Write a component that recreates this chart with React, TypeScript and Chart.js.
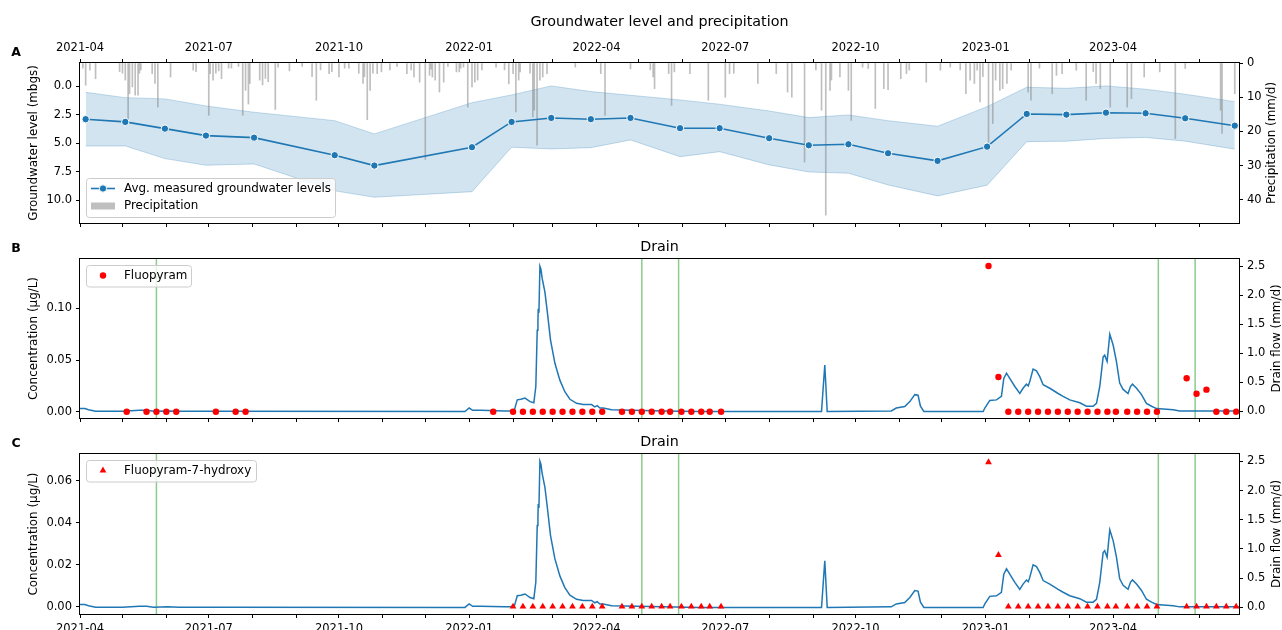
import React, { useEffect, useRef } from 'react';
import { Chart, registerables } from 'chart.js';

Chart.register(...registerables);

// ---------- data ----------
const START_DATE = '2021-04-01';
const X_MAX_DAY = 819; // ~2023-06-28

const MONTHS = [
  '2021-04', '2021-05', '2021-06', '2021-07', '2021-08', '2021-09', '2021-10', '2021-11', '2021-12',
  '2022-01', '2022-02', '2022-03', '2022-04', '2022-05', '2022-06', '2022-07', '2022-08', '2022-09',
  '2022-10', '2022-11', '2022-12', '2023-01', '2023-02', '2023-03', '2023-04', '2023-05', '2023-06',
];
const MONTH_LABELS = ['2021-04', '2021-07', '2021-10', '2022-01', '2022-04', '2022-07', '2022-10', '2023-01', '2023-04'];

const GW_DATES = [
  '2021-04-05', '2021-05-03', '2021-05-31', '2021-06-29', '2021-08-02', '2021-09-28', '2021-10-26',
  '2022-01-03', '2022-01-31', '2022-02-28', '2022-03-28', '2022-04-25', '2022-05-30', '2022-06-27',
  '2022-08-01', '2022-08-29', '2022-09-26', '2022-10-24', '2022-11-28', '2023-01-02', '2023-01-30',
  '2023-02-27', '2023-03-27', '2023-04-24', '2023-05-22', '2023-06-26',
];
const GW_MEAN = [2.89, 3.13, 3.72, 4.33, 4.51, 6.05, 6.96, 5.35, 3.13, 2.78, 2.89, 2.78, 3.68, 3.68, 4.56, 5.18, 5.09, 5.88, 6.55, 5.3, 2.43, 2.49, 2.32, 2.37, 2.81, 3.46];
const GW_MIN = [0.53, 1.0, 1.11, 1.73, 2.28, 3.02, 4.18, 1.44, 0.76, -0.03, 0.47, 0.79, 1.2, 1.58, 2.17, 2.75, 2.52, 3.02, 3.51, 1.79, 0.09, 0.18, -0.03, 0.26, 0.7, 1.35];
const GW_MAX = [5.24, 5.24, 6.35, 6.93, 6.82, 9.18, 9.74, 9.25, 5.35, 5.5, 5.39, 4.71, 6.18, 5.74, 6.9, 7.52, 7.63, 8.66, 9.62, 8.68, 4.86, 4.82, 4.58, 4.49, 4.82, 5.52];

// [day since 2021-04-01, mm/d]
const PRECIPITATION: [number, number][] = [
  [2, 1.5], [4, 6.5], [7, 2.1], [11, 4.6], [28, 2.5], [30, 3.0], [32, 5.0], [34, 16.8], [35, 9.0], [37, 7.0], [39, 9.4],
  [41, 9.4], [42, 3.0], [43, 2.0], [51, 3.1], [53, 6.0], [55, 12.9], [64, 4.1], [80, 2.1], [82, 2.5], [91, 15.3], [92, 3.1],
  [94, 5.0], [96, 3.0], [98, 2.3], [100, 4.6], [105, 1.5], [107, 1.5], [112, 1.0], [115, 15.3], [117, 8.0], [119, 12.0], [120, 6.0], [127, 5.0],
  [129, 6.4], [131, 4.5], [133, 5.5], [138, 13.6], [140, 1.2], [148, 2.3], [157, 1.0], [164, 4.0], [167, 10.9], [170, 2.0], [176, 3.1],
  [178, 2.5], [183, 4.1], [187, 1.5], [190, 1.5], [197, 3.0], [200, 6.0], [201, 4.0], [203, 16.6], [205, 8.0], [207, 3.0], [210, 3.1],
  [213, 2.6], [219, 2.0], [224, 1.0], [231, 3.1], [234, 2.0], [236, 4.1], [240, 5.6], [244, 28.2], [247, 3.6], [248, 1.8], [249, 4.1],
  [251, 5.0], [254, 8.5], [257, 5.6], [260, 1.0], [266, 2.6], [268, 2.6], [269, 1.5], [271, 1.2], [274, 12.9], [277, 7.0], [279, 5.6],
  [281, 5.0], [284, 2.0], [294, 1.2], [300, 2.0], [303, 6.1], [306, 3.1], [308, 14.3], [310, 5.0], [311, 2.6], [318, 3.0],
  [320, 15.8], [321, 13.8], [323, 24.0], [325, 5.0], [327, 4.1], [330, 3.1], [350, 1.2], [368, 3.1], [371, 15.3], [389, 1.7],
  [403, 2.0], [405, 4.1], [406, 7.5], [416, 3.1], [418, 12.4], [420, 2.6], [431, 3.1], [444, 10.9], [456, 10.0], [459, 3.1],
  [462, 3.0], [479, 6.0], [492, 3.1], [500, 8.5], [503, 10.0], [512, 29.0], [520, 2.0], [524, 13.8], [527, 44.5], [530, 8.0],
  [531, 5.0], [537, 4.1], [543, 8.0], [545, 16.8], [553, 1.2], [557, 1.6], [562, 13.3], [568, 7.5], [571, 7.8], [580, 4.6],
  [584, 3.1], [586, 2.1], [598, 5.6], [608, 2.1], [615, 1.2], [622, 2.0], [626, 9.0], [629, 5.0], [632, 6.0], [634, 2.1],
  [636, 11.4], [638, 4.0], [642, 23.6], [645, 17.7], [647, 5.0], [650, 8.0], [652, 7.5], [655, 6.0], [658, 2.1], [670, 8.5],
  [672, 10.9], [678, 1.5], [687, 9.0], [690, 3.6], [694, 3.1], [704, 2.1], [711, 10.9], [716, 2.5], [718, 6.0], [721, 7.5],
  [728, 12.9], [740, 12.9], [743, 10.4], [752, 4.1], [763, 2.6], [774, 22.1], [781, 1.6], [806, 13.8], [807, 20.6], [816, 9.0],
];

// [day since 2021-04-01, mm/d]
const DRAIN_FLOW: [number, number][] = [
  [0, 0.05], [3.5, 0.05], [6, 0.03], [11, 0.005], [30, 0.005], [42, 0.02], [47, 0.02], [52, 0.005], [62, 0.01], [70, 0.005],
  [90, 0.005], [100, 0.003], [272, 0.0], [275, 0.06], [277.5, 0.02], [283, 0.02], [300, 0.01], [304, 0.01], [307, 0.03],
  [309, 0.2], [311.5, 0.21], [314.5, 0.23], [318, 0.17], [320.7, 0.15], [322.1, 0.43], [323.1, 1.4], [323.6, 1.55],
  [323.8, 1.77], [324.3, 1.7], [325, 2.5], [325.7, 2.45], [326.6, 2.29], [328.5, 2.06], [330.1, 1.74], [332.5, 1.23],
  [335.6, 0.83], [339.1, 0.54], [342.6, 0.34], [346.2, 0.21], [350.9, 0.14], [355.6, 0.12], [361.5, 0.12], [363.8, 0.08],
  [365.5, 0.1], [367.4, 0.06], [369.7, 0.06], [375.6, 0.03], [412, 0.01], [438, 0.0], [524, 0.0], [526.3, 0.8], [528, 0.0],
  [573.3, 0.01], [576.8, 0.06], [582.8, 0.085], [586.4, 0.17], [589.9, 0.29], [592.2, 0.28], [593.9, 0.09], [596.3, 0.0],
  [638.2, 0.0], [639.4, 0.06], [642.9, 0.19], [647.6, 0.2], [651.1, 0.26], [652.8, 0.57], [654.7, 0.66], [657, 0.57],
  [660.6, 0.43], [664.1, 0.31], [666.4, 0.4], [668.8, 0.47], [670.1, 0.44], [671.1, 0.51], [673.5, 0.73], [675.9, 0.7],
  [678.2, 0.6], [680.6, 0.46], [685.3, 0.4], [691.2, 0.31], [694.7, 0.26], [699.4, 0.2], [706.5, 0.15], [711.2, 0.09],
  [715.9, 0.09], [718.3, 0.14], [720.6, 0.43], [723, 0.94], [724.1, 0.97], [725.8, 0.86], [727.7, 1.33], [730.1, 1.14],
  [732.4, 0.86], [734.7, 0.49], [737.1, 0.38], [740.6, 0.31], [742.3, 0.43], [743.7, 0.47], [746.6, 0.4], [750.1, 0.29],
  [753.6, 0.14], [757.2, 0.09], [760.7, 0.05], [772.5, 0.03], [777.1, 0.01], [819, 0.01],
];

const FLUOPYRAM_DATES = [
  '2021-05-04', '2021-05-18', '2021-05-25', '2021-06-01', '2021-06-08', '2021-07-06', '2021-07-20', '2021-07-27',
  '2022-01-18', '2022-02-01', '2022-02-08', '2022-02-15', '2022-02-22', '2022-03-01', '2022-03-08', '2022-03-15',
  '2022-03-22', '2022-03-29', '2022-04-05', '2022-04-19', '2022-04-26', '2022-05-03', '2022-05-10', '2022-05-17',
  '2022-05-23', '2022-05-31', '2022-06-07', '2022-06-14', '2022-06-20', '2022-06-28',
  '2023-01-03', '2023-01-10', '2023-01-17', '2023-01-24', '2023-01-31', '2023-02-07', '2023-02-14', '2023-02-21',
  '2023-02-28', '2023-03-07', '2023-03-14', '2023-03-21', '2023-03-28', '2023-04-03', '2023-04-11', '2023-04-18',
  '2023-04-25', '2023-05-02', '2023-05-23', '2023-05-30', '2023-06-06', '2023-06-13', '2023-06-20', '2023-06-27',
];
const FLUOPYRAM_CONC = [
  0, 0, 0, 0, 0, 0, 0, 0,
  0, 0, 0, 0, 0, 0, 0, 0, 0, 0, 0, 0, 0, 0, 0, 0, 0, 0, 0, 0, 0, 0,
  0.1409, 0.0336, 0, 0, 0, 0, 0, 0, 0, 0, 0, 0, 0, 0, 0, 0, 0, 0, 0.0323, 0.0174, 0.0213, 0, 0, 0,
];

const HYDROXY_DATES = [
  '2022-02-01', '2022-02-08', '2022-02-15', '2022-02-22', '2022-03-01', '2022-03-08', '2022-03-15',
  '2022-03-22', '2022-03-29', '2022-04-05', '2022-04-19', '2022-04-26', '2022-05-03', '2022-05-10', '2022-05-17',
  '2022-05-23', '2022-05-31', '2022-06-07', '2022-06-14', '2022-06-20', '2022-06-28',
  '2023-01-03', '2023-01-10', '2023-01-17', '2023-01-24', '2023-01-31', '2023-02-07', '2023-02-14', '2023-02-21',
  '2023-02-28', '2023-03-07', '2023-03-14', '2023-03-21', '2023-03-28', '2023-04-03', '2023-04-11', '2023-04-18',
  '2023-04-25', '2023-05-02', '2023-05-23', '2023-05-30', '2023-06-06', '2023-06-13', '2023-06-20', '2023-06-27',
];
const HYDROXY_CONC = [
  0, 0, 0, 0, 0, 0, 0, 0, 0, 0, 0, 0, 0, 0, 0, 0, 0, 0, 0, 0, 0,
  0.0688, 0.0246, 0, 0, 0, 0, 0, 0, 0, 0, 0, 0, 0, 0, 0, 0, 0, 0, 0, 0, 0, 0, 0, 0,
];

const APPLICATION_DATES = ['2021-05-25', '2022-05-03', '2022-05-29', '2023-05-03', '2023-05-29'];

const GW_TICKS = [0, 2.5, 5, 7.5, 10];
const PRECIP_TICKS = [0, 10, 20, 30, 40];
const CONC_B_TICKS = [0, 0.05, 0.1];
const CONC_C_TICKS = [0, 0.02, 0.04, 0.06];
const FLOW_TICKS = [0, 0.5, 1, 1.5, 2, 2.5];

// ---------- helpers ----------
const FONT = "'DejaVu Sans', sans-serif";
const BLUE = '#1f77b4';
const dayOf = (s: string) => {
  const [y, m, d] = s.split('-').map(Number);
  const [y0, m0, d0] = START_DATE.split('-').map(Number);
  return Math.round((Date.UTC(y, m - 1, d) - Date.UTC(y0, m0 - 1, d0)) / 86400000);
};
const X_TICK_VALUES = MONTHS.map((m) => dayOf(m + '-01'));
const X_LABELS = new Map<number, string>(MONTH_LABELS.map((l) => [dayOf(l + '-01'), l]));

Chart.defaults.font.family = FONT;
Chart.defaults.font.size = 11.5;
Chart.defaults.color = '#000';

const LEFT_W = 80;
const RIGHT_W = 43;

const gridOpts = {
  display: true,
  drawOnChartArea: false,
  drawTicks: true,
  tickLength: 4,
  color: '#000',
  tickColor: '#000',
  tickWidth: 1,
  offset: false,
};

function xAxis(position: string, labels: boolean, height: number) {
  return {
    type: 'linear',
    position,
    min: 0,
    max: X_MAX_DAY,
    bounds: 'data',
    offset: false,
    grid: gridOpts,
    border: { display: false },
    ticks: {
      autoSkip: false,
      maxRotation: 0,
      minRotation: 0,
      padding: 4,
      color: '#000',
      font: { size: 11.5, family: FONT },
      callback: (v: number) => (labels ? X_LABELS.get(Math.round(v)) ?? '' : ''),
    },
    afterBuildTicks: (s: any) => {
      s.ticks = X_TICK_VALUES.map((v) => ({ value: v }));
    },
    afterFit: (s: any) => {
      s.height = height;
      s.paddingLeft = 0;
      s.paddingRight = 0;
      s.paddingTop = 0;
      s.paddingBottom = 0;
    },
  };
}

function yAxis(position: string, min: number, max: number, reverse: boolean, ticks: number[], dec: number, width: number) {
  return {
    type: 'linear',
    position,
    min,
    max,
    reverse,
    bounds: 'data',
    grid: gridOpts,
    border: { display: false },
    ticks: {
      padding: 4,
      color: '#000',
      font: { size: 11.5, family: FONT },
      callback: (v: number) => Number(v).toFixed(dec),
    },
    afterBuildTicks: (s: any) => {
      s.ticks = ticks.map((v) => ({ value: v }));
    },
    afterFit: (s: any) => {
      s.width = width;
      s.paddingLeft = 0;
      s.paddingRight = 0;
      s.paddingTop = 0;
      s.paddingBottom = 0;
    },
  };
}

function txt(ctx: CanvasRenderingContext2D, s: string, x: number, y: number, font: string, align: CanvasTextAlign = 'left', rot = 0) {
  ctx.save();
  ctx.font = font;
  ctx.fillStyle = '#000';
  ctx.textAlign = align;
  ctx.textBaseline = 'middle';
  ctx.translate(x, y);
  if (rot) ctx.rotate(rot);
  ctx.fillText(s, 0, 0);
  ctx.restore();
}

function legendBox(ctx: CanvasRenderingContext2D, x: number, y: number, w: number, h: number) {
  ctx.save();
  ctx.beginPath();
  if ((ctx as any).roundRect) (ctx as any).roundRect(x + 0.5, y + 0.5, w, h, 3);
  else ctx.rect(x + 0.5, y + 0.5, w, h);
  ctx.fillStyle = 'rgba(255,255,255,0.8)';
  ctx.fill();
  ctx.strokeStyle = '#cccccc';
  ctx.lineWidth = 1;
  ctx.stroke();
  ctx.restore();
}

const F_TEXT = `11.9px ${FONT}`;
const F_TITLE = `14.3px ${FONT}`;
const F_LETTER = `bold 12.5px ${FONT}`;

function overlay(opts: {
  letter: string;
  title: string;
  titleY: number;
  leftTitle: string;
  rightTitle: string;
  rightTitleX: number;
  vlines?: string[];
  legend: (ctx: CanvasRenderingContext2D, area: any) => void;
}) {
  return {
    id: 'overlay',
    beforeDatasetsDraw(chart: any) {
      if (!opts.vlines) return;
      const { ctx, chartArea } = chart;
      const xs = chart.scales.x;
      ctx.save();
      ctx.strokeStyle = 'rgba(44,160,44,0.55)';
      ctx.lineWidth = 1.5;
      for (const d of opts.vlines) {
        const px = xs.getPixelForValue(dayOf(d));
        ctx.beginPath();
        ctx.moveTo(px, chartArea.top);
        ctx.lineTo(px, chartArea.bottom);
        ctx.stroke();
      }
      ctx.restore();
    },
    afterDatasetsDraw(chart: any) {
      const { ctx, chartArea: a } = chart;
      ctx.save();
      ctx.strokeStyle = '#000';
      ctx.lineWidth = 1;
      const l = Math.round(a.left) - 0.5;
      const t = Math.round(a.top) - 0.5;
      const r = Math.round(a.right) + 0.5;
      const b = Math.round(a.bottom) + 0.5;
      ctx.strokeRect(l, t, r - l, b - t);
      ctx.restore();
    },
    afterDraw(chart: any) {
      const { ctx, chartArea: a } = chart;
      const cx = (a.left + a.right) / 2;
      const cy = (a.top + a.bottom) / 2;
      txt(ctx, opts.title, cx, opts.titleY, F_TITLE, 'center');
      txt(ctx, opts.letter, 16, a.top - 10, F_LETTER, 'center');
      txt(ctx, opts.leftTitle, 34, cy, F_TEXT, 'center', -Math.PI / 2);
      txt(ctx, opts.rightTitle, opts.rightTitleX, cy, F_TEXT, 'center', -Math.PI / 2);
      opts.legend(ctx, a);
    },
  };
}

const commonOptions = {
  responsive: false,
  animation: false,
  devicePixelRatio: 1,
  events: [],
  layout: { padding: 0 },
  elements: { line: { tension: 0 } },
};
const basePlugins = { legend: { display: false }, tooltip: { enabled: false }, title: { display: false } };

function configA(): any {
  const gw = (arr: number[]) => GW_DATES.map((d, i) => ({ x: dayOf(d), y: arr[i] }));
  return {
    type: 'line',
    data: {
      datasets: [
        {
          label: 'Avg. measured groundwater levels',
          data: gw(GW_MEAN),
          xAxisID: 'x',
          yAxisID: 'y',
          borderColor: BLUE,
          borderWidth: 1.6,
          pointRadius: 3.7,
          pointBackgroundColor: BLUE,
          pointBorderColor: '#ffffff',
          pointBorderWidth: 1,
          fill: false,
        },
        {
          type: 'bar',
          label: 'Precipitation',
          data: PRECIPITATION.map(([d, v]) => ({ x: d, y: v })),
          xAxisID: 'x',
          yAxisID: 'y1',
          backgroundColor: 'rgba(128,128,128,0.5)',
          borderWidth: 0,
          barThickness: 1,
          grouped: false,
        },
        {
          label: 'min',
          data: gw(GW_MIN),
          xAxisID: 'x',
          yAxisID: 'y',
          borderColor: 'rgba(31,119,180,0.25)',
          borderWidth: 1,
          pointRadius: 0,
          fill: false,
        },
        {
          label: 'max',
          data: gw(GW_MAX),
          xAxisID: 'x',
          yAxisID: 'y',
          borderColor: 'rgba(31,119,180,0.25)',
          borderWidth: 1,
          pointRadius: 0,
          fill: '-1',
          backgroundColor: 'rgba(31,119,180,0.2)',
        },
      ],
    },
    options: {
      ...commonOptions,
      scales: {
        x: xAxis('top', true, 63),
        xb: xAxis('bottom', false, 7),
        y: yAxis('left', -2.04, 12.0, true, GW_TICKS, 1, LEFT_W),
        y1: { ...yAxis('right', 0, 46.8, true, PRECIP_TICKS, 0, RIGHT_W), beginAtZero: true },
      },
      plugins: basePlugins,
    },
    plugins: [
      overlay({
        letter: 'A',
        title: 'Groundwater level and precipitation',
        titleY: 22,
        leftTitle: 'Groundwater level (mbgs)',
        rightTitle: 'Precipitation (mm/d)',
        rightTitleX: 1272,
        legend: (ctx, a) => {
          const bx = a.left + 6;
          const bh = 39;
          const by = a.bottom - 6 - bh;
          legendBox(ctx, bx, by, 249, bh);
          const y1 = by + 10.5;
          ctx.save();
          ctx.strokeStyle = BLUE;
          ctx.lineWidth = 1.6;
          ctx.beginPath();
          ctx.moveTo(bx + 5, y1);
          ctx.lineTo(bx + 29, y1);
          ctx.stroke();
          ctx.beginPath();
          ctx.arc(bx + 17, y1, 3.7, 0, Math.PI * 2);
          ctx.fillStyle = BLUE;
          ctx.fill();
          ctx.strokeStyle = '#fff';
          ctx.lineWidth = 1;
          ctx.stroke();
          const y2 = by + 28;
          ctx.fillStyle = 'rgba(128,128,128,0.5)';
          ctx.fillRect(bx + 5, y2 - 3.5, 24, 7);
          ctx.restore();
          txt(ctx, 'Avg. measured groundwater levels', bx + 38, y1, F_TEXT);
          txt(ctx, 'Precipitation', bx + 38, y2, F_TEXT);
        },
      }),
    ],
  };
}

function drainConfig(which: 'B' | 'C'): any {
  const isB = which === 'B';
  const dates = isB ? FLUOPYRAM_DATES : HYDROXY_DATES;
  const conc = isB ? FLUOPYRAM_CONC : HYDROXY_CONC;
  const label = isB ? 'Fluopyram' : 'Fluopyram-7-hydroxy';
  return {
    type: 'line',
    data: {
      datasets: [
        {
          label,
          data: dates.map((d, i) => ({ x: dayOf(d), y: conc[i] })),
          xAxisID: 'x',
          yAxisID: 'y',
          showLine: false,
          pointStyle: isB ? 'circle' : 'triangle',
          pointRadius: isB ? 3.2 : 3.9,
          pointBackgroundColor: '#ff0000',
          pointBorderColor: '#ff0000',
          pointBorderWidth: 0,
        },
        {
          label: 'Drain flow',
          data: DRAIN_FLOW.map(([d, v]) => ({ x: d, y: v })),
          xAxisID: 'x',
          yAxisID: 'y1',
          borderColor: BLUE,
          borderWidth: 1.5,
          pointRadius: 0,
          fill: false,
        },
      ],
    },
    options: {
      ...commonOptions,
      layout: { padding: { top: isB ? 29 : 24, left: 0, right: 0, bottom: 0 } },
      scales: {
        x: xAxis('bottom', !isB, isB ? 12 : 16),
        y: isB
          ? yAxis('left', -0.0061, 0.1477, false, CONC_B_TICKS, 2, LEFT_W)
          : yAxis('left', -0.0035, 0.0727, false, CONC_C_TICKS, 2, LEFT_W),
        y1: yAxis('right', -0.112, 2.625, false, FLOW_TICKS, 1, RIGHT_W),
      },
      plugins: basePlugins,
    },
    plugins: [
      overlay({
        letter: which,
        title: 'Drain',
        titleY: isB ? 17 : 12,
        leftTitle: 'Concentration (µg/L)',
        rightTitle: 'Drain flow (mm/d)',
        rightTitleX: 1276.5,
        vlines: APPLICATION_DATES,
        legend: (ctx, a) => {
          const bx = a.left + 6;
          const by = a.top + 6;
          const w = isB ? 105 : 170;
          legendBox(ctx, bx, by, w, 21.5);
          const yy = by + 10.5;
          ctx.save();
          ctx.fillStyle = '#ff0000';
          ctx.beginPath();
          if (isB) {
            ctx.arc(bx + 17, yy, 3.2, 0, Math.PI * 2);
          } else {
            const r = 3.9;
            ctx.moveTo(bx + 17, yy - r);
            ctx.lineTo(bx + 17 + r * 0.866, yy + r * 0.5);
            ctx.lineTo(bx + 17 - r * 0.866, yy + r * 0.5);
            ctx.closePath();
          }
          ctx.fill();
          ctx.restore();
          txt(ctx, label, bx + 38, yy, F_TEXT);
        },
      }),
    ],
  };
}

export default function App() {
  const refA = useRef<HTMLCanvasElement>(null);
  const refB = useRef<HTMLCanvasElement>(null);
  const refC = useRef<HTMLCanvasElement>(null);

  useEffect(() => {
    const charts = [
      new Chart(refA.current as HTMLCanvasElement, configA()),
      new Chart(refB.current as HTMLCanvasElement, drainConfig('B')),
      new Chart(refC.current as HTMLCanvasElement, drainConfig('C')),
    ];
    return () => charts.forEach((c) => c.destroy());
  }, []);

  return (
    <div style={{ position: 'fixed', left: 0, top: 0, width: 1282, height: 630, background: '#fff', overflow: 'hidden' }}>
      <canvas ref={refA} width={1282} height={230} style={{ position: 'absolute', left: 0, top: 0, display: 'block' }} />
      <canvas ref={refB} width={1282} height={200} style={{ position: 'absolute', left: 0, top: 230, display: 'block' }} />
      <canvas ref={refC} width={1282} height={200} style={{ position: 'absolute', left: 0, top: 430, display: 'block' }} />
    </div>
  );
}
